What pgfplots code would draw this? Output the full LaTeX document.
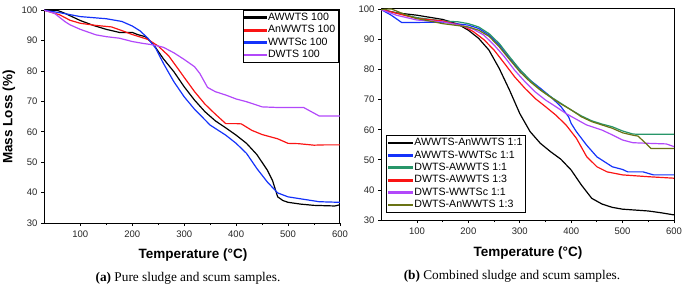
\documentclass[border=0pt]{standalone}
\usepackage{fontspec}
\setmainfont{Liberation Sans}
\newfontfamily\serif{Liberation Serif}
\usepackage{pgfplots}
\pgfplotsset{compat=1.18}
\definecolor{cviolet}{RGB}{178,72,250}
\definecolor{cgreen}{RGB}{40,150,105}
\definecolor{colive}{RGB}{105,115,20}
\definecolor{cred}{RGB}{250,20,20}
\definecolor{cblue}{RGB}{20,50,250}
\pgfplotsset{
  tgastyle/.style={
    scale only axis,
    xmin=30, xmax=600, ymin=30,
    xtick={100,200,300,400,500,600},
    ytick={30,40,50,60,70,80,90,100},
    minor x tick num=1,
    tick align=outside,
    major tick length=3pt,
    minor tick length=2pt,
    tick style={black, line width=0.8pt},
    axis line style={line width=1pt},
    xtick pos=bottom, ytick pos=left,
    /pgf/number format/assume math mode=true,
    ticklabel style={font=\fontsize{9.5}{10}\selectfont, text=black!85},
    xticklabel style={yshift=-1pt},
    every axis plot/.append style={line width=1.2pt, no marks},
    legend cell align=left,
    legend style={font=\fontsize{10.6}{11}\selectfont, draw=black, line width=0.8pt, inner sep=1.5pt, row sep=0pt,
      nodes={inner sep=1.4pt, text height=7.6pt, text depth=2pt}},
  }
}
\begin{document}
\begin{tikzpicture}[x=1pt,y=1pt]
\useasboundingbox (0,0) rectangle (685,292);
\begin{axis}[tgastyle, at={(44pt,69pt)}, anchor=south west, width=296pt, height=214pt, ymax=100.4,
  legend style={at={(0.995,0.997)}, anchor=north east},
  legend image code/.code={\fill[#1] (0pt,-0.8pt) rectangle (21pt,0.8pt);}]
\addplot[black] coordinates {(30,100) (55,100) (70,99) (100,96.6) (125,95) (150,93.7) (175,92.7) (200,92.7) (210,92) (225,91.3) (240,88.9) (260,84) (280,79.8) (300,74.8) (320,70.4) (340,66.6) (360,63.6) (380,61.3) (400,58.9) (420,56.2) (440,52.5) (460,47.4) (470,44) (480,38.6) (490,37.4) (500,36.8) (525,36.2) (550,35.8) (590,35.6) (600,36)};
\addlegendentry{AWWTS 100}
\addplot[cred] coordinates {(30,100) (60,98.5) (80,96.7) (100,95.7) (130,95) (160,94.5) (180,93.3) (200,92) (230,90.4) (250,88.2) (270,85) (290,80.3) (300,77.9) (320,73.2) (340,69.1) (360,65.8) (380,62.7) (400,62.7) (410,62.6) (430,60.5) (450,59.1) (480,57.7) (500,56.2) (520,56.1) (550,55.6) (570,55.7) (600,55.7)};
\addlegendentry{AnWWTS 100}
\addplot[cblue] coordinates {(30,100) (60,99.2) (100,97.9) (150,97.2) (180,96.3) (200,94.8) (215,93.2) (230,90.8) (245,87.5) (260,82.5) (280,76.5) (300,71.5) (320,67.4) (350,62.2) (380,58.9) (400,56.2) (420,52.9) (440,47.9) (460,43.5) (480,39.9) (500,38.6) (530,37.8) (560,37) (600,36.8)};
\addlegendentry{WWTSc 100}
\addplot[cviolet] coordinates {(30,100) (50,99) (70,96.3) (80,95.2) (100,93.7) (130,91.9) (150,91.3) (175,90.8) (200,89.7) (220,89.1) (240,88.6) (260,87.8) (280,86) (300,83.8) (320,81.4) (330,79.2) (345,74.6) (360,73.2) (380,72.1) (400,70.8) (420,69.9) (450,68.2) (480,68) (530,68) (545,66.6) (560,65.2) (600,65.2)};
\addlegendentry{DWTS 100}
\end{axis}
\begin{axis}[tgastyle, at={(381pt,72pt)}, anchor=south west, width=293pt, height=212pt, ymax=100.5,
  legend style={at={(0.017,0.033)}, anchor=south west},
  legend image code/.code={\fill[#1] (0pt,-0.8pt) rectangle (24pt,0.8pt);}]
\addplot[black] coordinates {(30,100) (60,98.9) (100,98.1) (150,96.7) (180,95.1) (200,93.1) (220,90.4) (240,86.5) (260,80.4) (280,73.2) (300,65.4) (320,59.4) (340,55.5) (360,52.7) (380,50.2) (400,46.6) (420,41.6) (440,37.2) (460,35.3) (480,34.2) (500,33.6) (550,33) (575,32.4) (600,31.7)};
\addlegendentry{AWWTS-AnWWTS 1:1}
\addplot[cblue] coordinates {(30,100) (50,98.1) (70,95.7) (100,95.7) (150,95.8) (200,94.8) (220,93.7) (240,91.5) (260,88.2) (280,83.7) (300,79.8) (320,76.5) (340,73.8) (360,71) (380,67.7) (395,64.3) (400,62.1) (410,59.4) (430,54.9) (450,51) (470,48.8) (480,47.7) (500,46.8) (510,46) (540,46) (560,45) (600,45)};
\addlegendentry{AWWTS-WWTSc 1:1}
\addplot[cgreen] coordinates {(30,100) (100,97.3) (150,96.2) (180,95.9) (200,95.3) (220,94.2) (240,92) (260,88.7) (280,84.3) (300,80.1) (320,76.5) (340,73.4) (360,71) (380,68.8) (400,66.6) (420,64.6) (440,63) (460,61.9) (480,61) (500,59.6) (520,58.6) (530,58.5) (600,58.5)};
\addlegendentry{DWTS-AWWTS 1:1}
\addplot[cred] coordinates {(30,100) (50,99.2) (100,97) (150,96.2) (190,94.5) (210,92.6) (230,90) (250,86.5) (270,82.1) (290,77.6) (310,73.8) (330,70.4) (350,67.7) (370,64.9) (390,61.6) (410,57.2) (430,51.1) (450,47.7) (470,46) (500,45) (550,44.4) (600,43.9)};
\addlegendentry{DWTS-AWWTS 1:3}
\addplot[cviolet] coordinates {(30,100) (60,98.1) (100,96.5) (150,95.9) (190,94.5) (210,93.4) (230,91.5) (250,88.2) (270,84.3) (290,79.8) (310,76) (330,72.6) (350,69.9) (370,67.7) (390,65.4) (410,63.5) (430,61.6) (460,59.9) (480,58.3) (500,56.6) (520,55.7) (550,55.5) (585,55.3) (600,54.4)};
\addlegendentry{DWTS-WWTSc 1:1}
\addplot[colive] coordinates {(30,100) (50,100.2) (80,98.1) (100,97) (150,95.3) (200,94.2) (220,93.1) (240,91.1) (260,87.6) (280,83.4) (300,79.3) (320,76) (340,73.2) (360,70.8) (380,68.6) (400,66.6) (420,64.3) (440,62.7) (460,61.6) (480,60.5) (500,59) (520,58.2) (530,57.9) (545,55.5) (555,53.8) (600,53.8)};
\addlegendentry{DWTS-AnWWTS 1:3}
\end{axis}
\node[font=\bfseries\fontsize{13.5}{15}\selectfont] at (193,37) {Temperature (°C)};
\node[font=\bfseries\fontsize{13.5}{15}\selectfont] at (528,39) {Temperature (°C)};
\node[font=\bfseries\fontsize{13.5}{15}\selectfont, rotate=90] at (9,175) {Mass Loss (\%)};
\node[font=\serif\fontsize{13.3}{15}\selectfont] at (188,14) {\textbf{(a)} Pure sludge and scum samples.};
\node[font=\serif\fontsize{13.3}{15}\selectfont] at (512,16) {\textbf{(b)} Combined sludge and scum samples.};
\end{tikzpicture}
\end{document}
